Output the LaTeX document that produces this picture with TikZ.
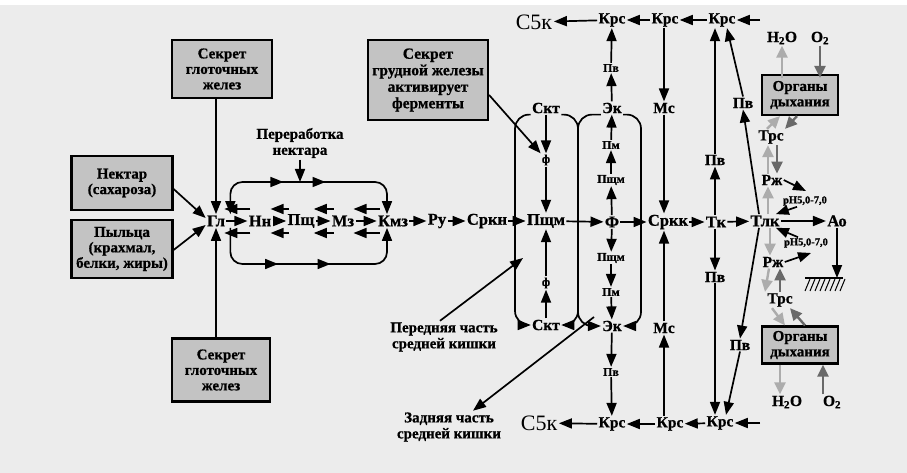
\documentclass[tikz,border=0pt]{standalone}
\usepackage{fontspec}
\setmainfont{Liberation Serif}[BoldFeatures={FakeBold=0.8}]
\usetikzlibrary{arrows.meta,calc,decorations.markings}
\definecolor{bgc}{RGB}{236,236,236}
\definecolor{boxc}{RGB}{195,195,195}
\definecolor{lgc}{RGB}{172,172,172}
\definecolor{dgc}{RGB}{105,105,105}
\begin{document}
\begin{tikzpicture}[x=1pt,y=-1pt,
  arr/.style={line width=1.7pt,-{Triangle[length=13pt,width=10pt]}},
  ln/.style={line width=1.7pt},
  larr/.style={line width=2.4pt,color=lgc,-{Triangle[length=12pt,width=11pt]}},
  darr/.style={line width=2.4pt,color=dgc,-{Triangle[length=12pt,width=11pt]}},
  lbl/.style={font=\bfseries\fontsize{16.5}{17}\selectfont,inner sep=1.2pt},
  md/.style={font=\bfseries\fontsize{15.5}{16}\selectfont,inner sep=1.2pt},
  captxt/.style={font=\bfseries\fontsize{15}{16}\selectfont,inner sep=1.5pt,align=center},
  sm/.style={font=\bfseries\fontsize{12}{13}\selectfont,inner sep=1pt},
  phlbl/.style={font=\bfseries\fontsize{10.5}{11}\selectfont,inner sep=1pt},
  big/.style={font=\fontsize{22}{23}\selectfont,inner sep=1.5pt},
  gbox/.style={draw=black,line width=2.2pt,fill=boxc,align=center,inner sep=0pt,font=\bfseries\fontsize{15}{15.5}\selectfont},
  midarrows/.style={postaction={decorate,decoration={markings,
     mark=at position #1 with {\arrow{Triangle[length=13pt,width=10pt]}}}}},
]
\useasboundingbox (0,0) rectangle (907,473);
\fill[white] (0,0) rectangle (907,473);
\fill[bgc] (0,5) rectangle (907,473);

% ---- main row
\node[lbl] (gl) at (216,221) {Гл};
\node[lbl] (nn) at (260,221) {Нн};
\node[lbl] (psch) at (301,221) {Пщ};
\node[lbl] (mz) at (343,221) {Мз};
\node[lbl] (kmz) at (393,221) {Кмз};
\node[lbl] (ru) at (437,221) {Ру};
\node[lbl] (srkn) at (487,221) {Сркн};
\node[lbl] (pschm) at (546,221) {Пщм};
\node[lbl] (f) at (612,222) {Ф};
\node[lbl] (srkk) at (668,222) {Сркк};
\node[lbl] (tk) at (716,222) {Тк};
\node[lbl] (tlk) at (765,221) {Тлк};
\node[lbl] (ao) at (837,221) {Ао};

\foreach \a/\b in {gl/nn,nn/psch,psch/mz,mz/kmz,kmz/ru,ru/srkn,srkn/pschm,pschm/f,f/srkk,srkk/tk,tk/tlk,tlk/ao}
  \draw[arr] (\a) -- (\b);
\foreach \a/\b in {gl/nn,nn/psch,psch/mz,mz/kmz}{
  \draw[arr] ($(\b.west)+(3,-12)$) -- ($(\a.east)+(-2,-12)$);
  \draw[arr] ($(\b.west)+(3,12)$) -- ($(\a.east)+(-2,12)$);
}

% ---- nectar processing loop
\coordinate (lt) at (300,182);
\coordinate (lb) at (300,264);
\draw[ln,{Triangle[length=13pt,width=10pt]}-{Triangle[length=13pt,width=10pt]},rounded corners=12,
  midarrows=0.38,midarrows=0.58]
  ([xshift=4pt]gl.north east) |- (lt) -| ([xshift=-6pt]kmz.north);
\draw[arr,rounded corners=12,midarrows=0.36,midarrows=0.6]
  ([xshift=4pt]gl.south east) |- (lb) -| ([xshift=-6pt]kmz.south);
\node[captxt] (pn) at (300,143) {Переработка\\нектара};
\draw[arr] (pn.south) -- (lt);

% ---- input boxes
\node[gbox,minimum width=100pt,minimum height=58pt] (sg1) at (222,69) {Секрет\\глоточных\\желез};
\node[gbox,minimum width=101pt,minimum height=54pt] (nek) at (122,183) {Нектар\\(сахароза)};
\node[gbox,minimum width=101pt,minimum height=58pt] (pyl) at (122,249) {Пыльца\\(крахмал,\\белки, жиры)};
\node[gbox,minimum width=98pt,minimum height=63pt] (sg2) at (221,370) {Секрет\\глоточных\\желез};
\draw[arr] (sg1.south -| gl.north) -- (gl.north);
\draw[arr] (sg2.north -| gl.south) -- (gl.south);
\draw[arr] ([yshift=-6pt]nek.east) -- ([yshift=3pt]gl.west);
\draw[arr] ([yshift=-1pt]pyl.east) -- ([yshift=-4pt]gl.west);

% ---- thoracic gland secret
\node[gbox,minimum width=120pt,minimum height=80pt,font=\bfseries\fontsize{15.5}{16.5}\selectfont] (sgr) at (428,80) {Секрет\\грудной железы\\активирует\\ферменты};

% ---- Pschm column
\node[md] (skt1) at (546,108) {Скт};
\node[sm] (f1) at (546,160) {ф};
\node[sm] (f2) at (546,283) {ф};
\node[md] (skt2) at (546,325) {Скт};
\draw[arr] (skt1) -- (f1);
\draw[arr] (f1) -- (pschm);
\draw[arr] (skt2) -- (f2);
\draw[arr] (f2) -- (pschm);
\draw[arr] ([yshift=-15pt]sgr.east) -- (f1.north west);

% ---- F column
\node[sm] (pv1) at (611,68) {Пв};
\node[md] (ek1) at (612,108) {Эк};
\node[sm] (pm1) at (611,145) {Пм};
\node[sm] (pq1) at (611,180) {Пщм};
\node[sm] (pq2) at (611,258) {Пщм};
\node[sm] (pm2) at (611,292) {Пм};
\node[md] (ek2) at (612,326) {Эк};
\node[sm] (pv2) at (611,372) {Пв};

% ---- rows of Krs
\node[big] (c5t) at (534,22) {С5к};
\node[md] (krs1t) at (612,20) {Крс};
\node[md] (krs2t) at (665,20) {Крс};
\node[md] (krs3t) at (722,20) {Крс};
\coordinate (int) at (760,20);
\node[big] (c5b) at (539,423) {С5к};
\node[md] (krs1b) at (612,424) {Крс};
\node[md] (krs2b) at (670,424) {Крс};
\node[md] (krs3b) at (720,423) {Крс};
\coordinate (inb) at (760,423);
\draw[arr] (int) -- (krs3t);
\draw[arr] (krs3t) -- (krs2t);
\draw[arr] (krs2t) -- (krs1t);
\draw[arr] (krs1t) -- (c5t);
\draw[arr] (inb) -- (krs3b);
\draw[arr] (krs3b) -- (krs2b);
\draw[arr] (krs2b) -- (krs1b);
\draw[arr] (krs1b) -- (c5b);

\draw[arr] (f) -- (pq1);
\draw[arr] (pq1) -- (pm1);
\draw[arr] (pm1) -- (ek1);
\draw[arr] (ek1) -- (pv1);
\draw[arr] (pv1) -- (krs1t);
\draw[arr] (f) -- (pq2);
\draw[arr] (pq2) -- (pm2);
\draw[arr] (pm2) -- (ek2);
\draw[arr] (ek2) -- (pv2);
\draw[arr] (pv2) -- (krs1b);

% ---- gut outlines
\coordinate (wl) at (515,220);
\coordinate (wm) at (578,220);
\coordinate (wr) at (641,220);
\draw[arr,rounded corners=14] (skt1.south west) -| (wl) |- (skt2.west);
\draw[ln,rounded corners=14] (skt1.south east) -| (wm);
\draw[ln,rounded corners=14] (ek1.south west) -| (wm);
\draw[arr,rounded corners=14] (wm) |- (skt2.east);
\draw[arr,rounded corners=14] (wm) |- (ek2.west);
\draw[arr,rounded corners=14] (ek1.south east) -| (wr) |- (ek2.east);

% ---- Mc column
\node[md] (mc1) at (664,108) {Мс};
\node[md] (mc2) at (664,328) {Мс};
\draw[arr] (krs2t.south -| mc1) -- (mc1.north);
\draw[arr] (mc1.south) -- (mc1 |- srkk.north);
\draw[arr] (krs2b.north -| mc2) -- (mc2.south);
\draw[arr] (mc2.north) -- (mc2 |- srkk.south);

% ---- Tk column
\node[md] (pv3) at (715,160) {Пв};
\node[md] (pv4) at (715,277) {Пв};
\draw[arr] (tk.north -| pv3) -- (pv3);
\draw[arr] (pv3) -- (pv3 |- krs3t.south);
\draw[arr] (tk.south -| pv4) -- (pv4);
\draw[arr] (pv4) -- (pv4 |- krs3b.north);

% ---- Tlk diagonals
\node[md] (pv5) at (743,103) {Пв};
\node[md] (pv6) at (740,345) {Пв};
\draw[arr] ([xshift=-6pt]tlk.north) -- (pv5.south);
\draw[arr] (pv5.north) -- ([xshift=5pt]krs3t.south);
\draw[arr] ([xshift=-6pt]tlk.south) -- (pv6.north);
\draw[arr] (pv6.south) -- ([xshift=6pt]krs3b.north);

% ---- labels midgut
\node[captxt] (pered) at (444,337) {Передняя часть\\средней кишки};
\coordinate (pe) at (523,258);
\draw[arr] ([xshift=-4pt]pered.north) -- (pe);
\node[captxt] (zad) at (449,427) {Задняя часть\\средней кишки};
\coordinate (ze) at (594,317);
\draw[arr] (ze) -- ([xshift=24pt]zad.north);

% ---- respiration (upper)
\node[md] (h2o1) at (782,38) {H\textsubscript{2}O};
\node[md] (o21) at (820,38) {O\textsubscript{2}};
\node[gbox,minimum width=76pt,minimum height=40pt] (org1) at (800,95) {Органы\\дыхания};
\node[md] (trs1) at (771,137) {Трс};
\node[md] (rzh1) at (772,180) {Рж};
\node[phlbl] (ph1) at (805,201) {pH5,0-7,0};
\draw[larr] ([yshift=-4pt]org1.north -| h2o1) -- (h2o1.south);
\draw[darr] (o21.south) -- ([yshift=-4pt]org1.north -| o21);
\draw[larr] ([xshift=-4pt]trs1.north) -- ([xshift=-20pt]org1.south);
\draw[darr] ([xshift=-3pt]org1.south) -- (trs1.north east);
\draw[larr] ([xshift=-4pt]rzh1.north) -- ([xshift=-3pt]trs1.south);
\draw[darr] ([xshift=6pt]trs1.south) -- ([xshift=5pt]rzh1.north);
\draw[larr] ([xshift=3pt]tlk.north) -- ([xshift=-4pt]rzh1.south);
\coordinate (re1) at (806,191);
\draw[arr] (rzh1.east) -- (re1);
\draw[arr] ([xshift=-8pt]ph1.south) -- ([xshift=-5pt]tlk.north east);

% ---- respiration (lower)
\node[phlbl] (ph2) at (806,243) {pH5,0-7,0};
\node[md] (rzh2) at (773,262) {Рж};
\node[md] (trs2) at (780,300) {Трс};
\node[gbox,minimum width=76pt,minimum height=37pt] (org2) at (800,345) {Органы\\дыхания};
\node[md] (h2o2) at (787,402) {H\textsubscript{2}O};
\node[md] (o22) at (832,402) {O\textsubscript{2}};
\draw[arr] ([xshift=-8pt]ph2.north) -- ([xshift=-5pt]tlk.south east);
\coordinate (re2) at (811,253);
\draw[arr] (rzh2.east) -- (re2);
\draw[larr] ([xshift=5pt]tlk.south) -- ([xshift=-3pt]rzh2.north);
\draw[larr] ([xshift=-4pt]rzh2.south) -- ([xshift=-15pt]trs2.north);
\draw[darr] (trs2.north) -- ([xshift=7pt]rzh2.south);
\draw[larr] ([xshift=-8pt]trs2.south) -- ([xshift=-15pt]org2.north);
\draw[darr] ([xshift=5pt]org2.north) -- ([xshift=10pt]trs2.south);
\draw[larr] ([xshift=-20pt]org2.south) -- ([xshift=-7pt]h2o2.north);
\draw[darr] ([xshift=-9pt]o22.north) -- ([xshift=23pt]org2.south);

% ---- ground
\coordinate (gnd) at (837,278);
\draw[arr] (ao) -- (gnd);
\draw[ln] (805,278) -- (843,278);
\foreach \x in {810,815,...,845}
  \draw[line width=1pt] (\x,279) -- (\x-5,291);
\end{tikzpicture}
\end{document}
